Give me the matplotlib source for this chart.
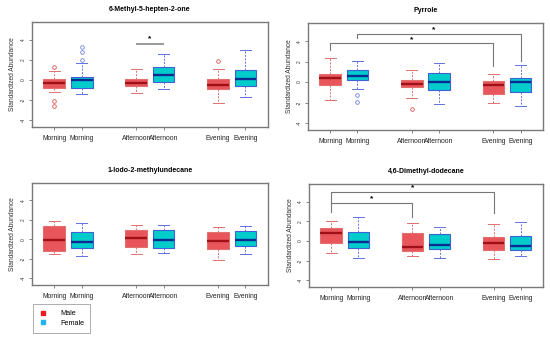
import matplotlib
matplotlib.use("Agg")
import matplotlib.pyplot as plt
from matplotlib.lines import Line2D

plt.rcParams['font.family'] = ['Liberation Sans', 'DejaVu Sans']

titles = ["6-Methyl-5-hepten-2-one", "Pyrrole", "1-Iodo-2-methylundecane", "4,6-Dimethyl-dodecane"]
tick_labels = ["Morning", "Morning", "Afternoon", "Afternoon", "Evening", "Evening"]
positions = [1, 2, 4, 5, 7, 8]
groups = ["Male", "Female", "Male", "Female", "Male", "Female"]

# per panel: (whislo, q1, med, q3, whishi) for each of 6 boxes
stats_p1 = [(-1.17, -0.77, -0.30, 0.07, 0.90), (-1.43, -0.77, -0.03, 0.30, 1.67),
            (-1.33, -0.57, -0.33, 0.13, 1.07), (-0.87, -0.23, 0.47, 1.33, 2.60),
            (-2.33, -0.93, -0.53, 0.07, 1.07), (-1.73, -0.60, 0.07, 0.97, 3.00)]
fliers_p1 = [[1.27, -2.1, -2.6], [2.0, 2.77, 3.33], [], [], [1.87], []]

stats_p2 = [(-1.80, -0.27, 0.37, 0.83, 2.33), (-0.63, 0.17, 0.60, 1.17, 2.07),
            (-1.57, -0.50, -0.17, 0.23, 1.17), (-2.17, -0.80, 0.03, 0.90, 1.87),
            (-2.07, -1.13, -0.27, 0.10, 0.83), (-2.33, -0.93, 0.00, 0.37, 1.67)]
fliers_p2 = [[], [-1.23, -1.97], [-2.63], [], [], []]

stats_p3 = [(-1.47, -1.20, -0.10, 1.37, 1.87), (-1.70, -0.93, -0.30, 0.73, 1.70),
            (-1.47, -0.77, 0.13, 0.93, 1.50), (-1.40, -0.87, -0.07, 1.00, 1.53),
            (-2.17, -0.97, -0.17, 0.73, 1.30), (-1.47, -0.63, -0.10, 0.87, 1.40)]
fliers_p3 = [[], [], [], [], [], []]

stats_p4 = [(-1.23, -0.23, 0.80, 1.37, 2.00), (-1.70, -0.70, -0.13, 0.87, 2.43),
            (-1.53, -1.03, -0.60, 0.77, 1.83), (-1.70, -0.83, -0.37, 0.73, 1.43),
            (-1.83, -0.87, -0.17, 0.37, 1.77), (-1.50, -0.90, -0.53, 0.53, 1.93)]
fliers_p4 = [[], [], [], [], [], []]

# brackets: (x1, x2, y_bar, y_end1, y_end2, star_x, star_y, style)
brackets_p1 = [(4, 5, 3.6, None, None, 4.5, 4.1, "plain")]
brackets_p2 = [(1, 7, 3.8, 3.1, 1.6, 4.0, 4.2, "end"), (2, 8, 4.7, 4.3, 2.1, 4.8, 5.1, "end")]
brackets_p3 = []
brackets_p4 = [(1, 4, 3.9, 2.9, 2.4, 2.5, 4.3, "end"), (1, 7, 5.0, 3.9, 2.8, 4.0, 5.4, "end")]

panels = [(stats_p1, fliers_p1, brackets_p1), (stats_p2, fliers_p2, brackets_p2),
          (stats_p3, fliers_p3, brackets_p3), (stats_p4, fliers_p4, brackets_p4)]

rects = [[0.058, 0.623, 0.429, 0.312], [0.560, 0.614, 0.427, 0.318],
         [0.058, 0.154, 0.429, 0.303], [0.562, 0.148, 0.425, 0.306]]

colors = {
    "Male": dict(face="#E8555A", edge="#E27070", med="#A01018", whisk="#E27070", flier="#E05050"),
    "Female": dict(face="#00CCCC", edge="#4060D8", med="#0A2C90", whisk="#6070E0", flier="#7080E0"),
}

fig = plt.figure(figsize=(5.5, 3.37), dpi=100)
frame_col = "#7a7a7a"

for idx, ((stats, fliers, brackets), rect) in enumerate(zip(panels, rects)):
    ax = fig.add_axes(rect)
    for (lo, q1, med, q3, hi), fl, pos, g in zip(stats, fliers, positions, groups):
        c = colors[g]
        d = dict(whislo=lo, q1=q1, med=med, q3=q3, whishi=hi, fliers=fl)
        ax.bxp([d], positions=[pos], widths=0.8, patch_artist=True, showfliers=True,
               boxprops=dict(facecolor=c["face"], edgecolor=c["edge"], linewidth=0.8),
               medianprops=dict(color=c["med"], linewidth=1.7),
               whiskerprops=dict(color=c["whisk"], linestyle=(0, (2, 1.5)), linewidth=0.7),
               capprops=dict(color=c["whisk"], linewidth=0.7),
               capwidths=0.4,
               flierprops=dict(marker="o", markersize=2.6, markerfacecolor="none",
                               markeredgecolor=c["flier"], markeredgewidth=0.6))
    for (x1, x2, yb, e1, e2, sx, sy, style) in brackets:
        if style == "plain":
            ax.plot([x1, x2], [yb, yb], color="#999999", lw=1.4, solid_capstyle="butt")
        else:
            ax.plot([x1, x1, x2, x2], [e1, yb, yb, e2], color="#777777", lw=0.8)
        ax.text(sx, sy, "*", ha="center", va="center", fontsize=6, fontweight="bold")
    ax.set_xlim(0.18, 8.82)
    ax.set_ylim(-4.7, 5.8)
    ax.set_xticks(positions)
    ax.set_xticklabels(tick_labels, fontsize=4.9, color="#222222")
    ax.set_yticks([-4, -2, 0, 2, 4])
    ax.set_yticklabels(["-4", "-2", "0", "2", "4"], fontsize=3.5, rotation=90, va="center",
                       color="#333333")
    ax.tick_params(axis="both", length=2.5, width=0.5, color="#555555", pad=2)
    ax.tick_params(axis="x", pad=3)
    for sp in ax.spines.values():
        sp.set_color(frame_col)
        sp.set_linewidth(1.0)
    ax.set_ylabel("Standardized Abundance", fontsize=4.8, color="#333333", labelpad=3)
    ax.set_title(titles[idx], fontsize=5.0, fontweight="bold", pad=8)

# legend
handles = [Line2D([], [], marker="s", linestyle="none", markersize=3.5, color="#E81E25"),
           Line2D([], [], marker="s", linestyle="none", markersize=3.5, color="#1EB4F0")]
leg = fig.legend(handles, ["Male", "Female"], loc="upper left",
                 bbox_to_anchor=(33 / 550, 1 - 304 / 337), fontsize=5.2, frameon=True,
                 fancybox=False, edgecolor="#888888", handletextpad=1.9, borderpad=0.85,
                 labelspacing=0.35, handlelength=1.0, borderaxespad=0)
leg.get_frame().set_linewidth(0.6)

fig.savefig("out.png", dpi=100, facecolor="white")
